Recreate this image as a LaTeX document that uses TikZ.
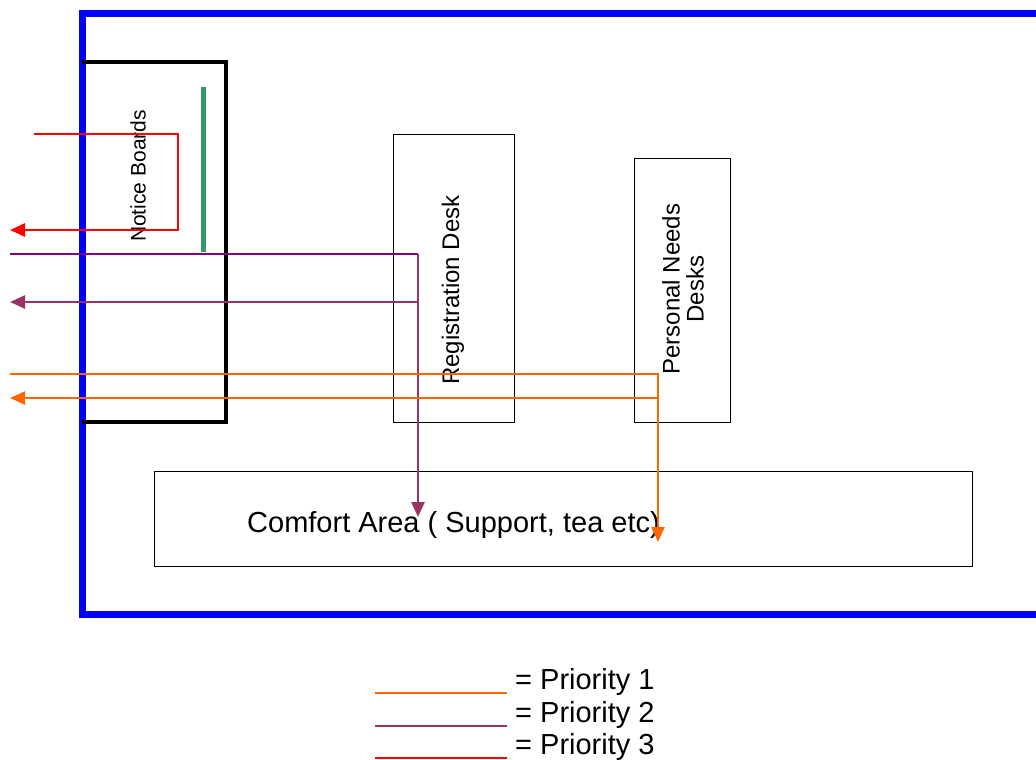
\documentclass[tikz,border=0pt]{standalone}
\usepackage{fontspec}
\setmainfont{Liberation Sans}
\usetikzlibrary{arrows.meta}
\definecolor{frameblue}{RGB}{0,0,255}
\definecolor{pri1}{RGB}{255,102,0}
\definecolor{pri2}{RGB}{153,51,102}
\definecolor{pri3}{RGB}{255,0,0}
\definecolor{deeppurple}{RGB}{128,0,128}
\definecolor{boardgreen}{RGB}{51,153,102}

\begin{document}
\begin{tikzpicture}[x=1pt,y=-1pt,
  tip/.style={-{Triangle[length=15pt,width=13pt]}},
  route/.style={line width=2.5pt},
  box/.style={draw,line width=1.3pt,inner sep=0pt,anchor=north west},
  vlabel/.style={rotate=90,inner sep=0pt,align=center}]
\useasboundingbox (0,0) rectangle (1036,760);
\draw[frameblue,line width=7pt] (1050,14) -- (82,14) -- (82,614) -- (1050,614);
% notice boards
\draw[line width=3.5pt] (82,62) -| (226,422) -- (82,422);
\draw[boardgreen,line width=5pt] (203,87) -- (203,252);
\node[vlabel,font=\fontsize{21}{24}\selectfont] (boards) at (138,176) {Notice Boards};
% desks
\node[box,minimum width=121pt,minimum height=288pt] (reg) at (393,134) {};
\node[vlabel,font=\fontsize{24}{27}\selectfont] (reglabel) at (453,290) {Registration Desk};
\node[box,minimum width=96pt,minimum height=264pt] (needs) at (634,158) {};
\node[vlabel,font=\fontsize{24}{24}\selectfont] (needslabel) at (683,289) {Personal Needs\\Desks};
\node[box,minimum width=818pt,minimum height=95pt] (comfort) at (154,471) {};
\node[anchor=base west,inner sep=0pt,font=\fontsize{29}{34}\selectfont] (comfortlabel) at (247,532) {Comfort Area ( Support, tea etc)};
% routes
\coordinate (regdrop) at (418,254);
\coordinate (needsdrop) at (658,374);
\draw[route,pri3,tip] (34,134) -| (178,230) -- (10,230);
\draw[route,deeppurple] (10,254) -- (regdrop);
\draw[route,pri2,tip] (regdrop) -- (418,517);
\draw[route,pri2,tip] (418,302) -- (10,302);
\draw[route,pri1,tip] (10,374) -- (needsdrop) -- (658,542);
\draw[route,pri1,tip] (658,398) -- (10,398);
% key
\node[anchor=base west,inner sep=0pt,font=\fontsize{29}{34}\selectfont] (key1) at (515,689) {= Priority 1};
\node[anchor=base west,inner sep=0pt,font=\fontsize{29}{34}\selectfont] (key2) at (515,722) {= Priority 2};
\node[anchor=base west,inner sep=0pt,font=\fontsize{29}{34}\selectfont] (key3) at (515,754) {= Priority 3};
\draw[pri1,line width=2pt] (375,693) -- (507,693);
\draw[pri2,line width=2pt] (375,726) -- (507,726);
\draw[pri3,line width=2pt] (375,758) -- (507,758);
\end{tikzpicture}
\end{document}
